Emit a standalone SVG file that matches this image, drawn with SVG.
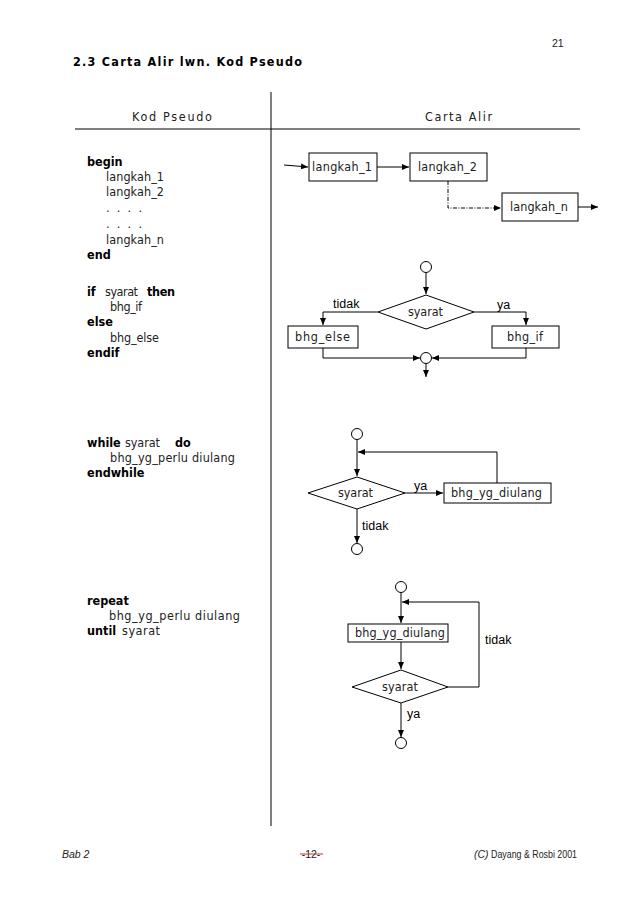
<svg xmlns="http://www.w3.org/2000/svg" width="638" height="903" viewBox="0 0 638 903">
<defs>
<marker id="ah" markerWidth="7" markerHeight="6" refX="7" refY="3" orient="auto" markerUnits="userSpaceOnUse">
<path d="M0,0 L7,3 L0,6 Z" fill="#000"/>
</marker>
<style>
.t{font-family:"DejaVu Sans Condensed","DejaVu Sans",sans-serif;font-size:12.5px;fill:#222}
.b{font-family:"DejaVu Sans Condensed","DejaVu Sans",sans-serif;font-size:12.5px;font-weight:bold;fill:#000}
.lb{font-family:"Liberation Sans",Arial,sans-serif;font-size:12.5px;fill:#000}
.box{fill:#fff;stroke:#000;stroke-width:1}
.ln{fill:none;stroke:#000;stroke-width:1}
.ar{fill:none;stroke:#000;stroke-width:1;marker-end:url(#ah)}
.ft{font-family:"Liberation Sans",Arial,sans-serif;font-size:10.5px;fill:#222}
</style>
</defs>
<rect width="638" height="903" fill="#fff"/>

<text x="552" y="47" class="ft" font-size="8">21</text>
<text x="73" y="66" class="b" font-size="15" textLength="229" lengthAdjust="spacing">2.3 Carta Alir lwn. Kod Pseudo</text>

<g id="table">
<line x1="271" y1="92" x2="271" y2="826" class="ln"/>
<line x1="75" y1="129" x2="580" y2="129" class="ln"/>
<text x="132" y="121" class="t" font-size="13.5" textLength="80" lengthAdjust="spacing">Kod Pseudo</text>
<text x="425" y="121" class="t" font-size="13.5" textLength="67" lengthAdjust="spacing">Carta Alir</text>
</g>

<g id="pseudo-seq">
<text x="87" y="166" class="b">begin</text>
<text x="106" y="181" class="t" textLength="58" lengthAdjust="spacing">langkah_1</text>
<text x="106" y="196" class="t" textLength="58" lengthAdjust="spacing">langkah_2</text>
<text x="106" y="212" class="t" textLength="36" lengthAdjust="spacing">. . . .</text>
<text x="106" y="228" class="t" textLength="36" lengthAdjust="spacing">. . . .</text>
<text x="106" y="244" class="t" textLength="58" lengthAdjust="spacing">langkah_n</text>
<text x="87" y="259" class="b">end</text>
</g>

<g id="pseudo-if">
<text x="87" y="296" class="b">if</text>
<text x="105" y="296" class="t" textLength="33" lengthAdjust="spacing">syarat</text>
<text x="147" y="296" class="b" textLength="28" lengthAdjust="spacing">then</text>
<text x="110" y="311" class="t" textLength="32" lengthAdjust="spacing">bhg_if</text>
<text x="87" y="326" class="b">else</text>
<text x="110" y="342" class="t" textLength="49" lengthAdjust="spacing">bhg_else</text>
<text x="87" y="357" class="b">endif</text>
</g>

<g id="pseudo-while">
<text x="87" y="447" class="b">while</text>
<text x="125" y="447" class="t" textLength="35" lengthAdjust="spacing">syarat</text>
<text x="175" y="447" class="b">do</text>
<text x="110" y="462" class="t" textLength="125" lengthAdjust="spacing">bhg_yg_perlu diulang</text>
<text x="87" y="477" class="b">endwhile</text>
</g>

<g id="pseudo-repeat">
<text x="87" y="605" class="b">repeat</text>
<text x="109" y="620" class="t" textLength="131" lengthAdjust="spacing">bhg_yg_perlu diulang</text>
<text x="87" y="635" class="b">until</text>
<text x="122" y="635" class="t" textLength="38" lengthAdjust="spacing">syarat</text>
</g>

<g id="connectors">
<line x1="284" y1="165" x2="308" y2="167" class="ar"/>
<line x1="377" y1="167" x2="409" y2="167" class="ar"/>
<path d="M448,181 V208 H501" class="ar" stroke-dasharray="4,1.5,1,1.5"/>
<line x1="578" y1="207" x2="598" y2="207" class="ar"/>
<line x1="426" y1="272.5" x2="426" y2="294" class="ar"/>
<path d="M378,312 H323 V325" class="ar"/>
<path d="M474,312 H526 V325" class="ar"/>
<path d="M323,348 V358 H420" class="ar"/>
<path d="M526,348 V358 H432" class="ar"/>
<line x1="426" y1="363.5" x2="426" y2="377" class="ar"/>
<line x1="357" y1="439.5" x2="357" y2="476" class="ar"/>
<path d="M497,483 V452 H358" class="ar"/>
<line x1="405" y1="493" x2="443" y2="493" class="ar"/>
<line x1="357" y1="509" x2="357" y2="543" class="ar"/>
<line x1="401" y1="592.5" x2="401" y2="623" class="ar"/>
<path d="M448,687 H479 V602 H402" class="ar"/>
<line x1="401" y1="642" x2="401" y2="669" class="ar"/>
<line x1="401" y1="703" x2="401" y2="737" class="ar"/>
</g>

<g id="langkah_1"><rect x="309" y="153" width="68" height="28" class="box"/><text x="312" y="171" class="t" textLength="60" lengthAdjust="spacing">langkah_1</text></g>
<g id="langkah_2"><rect x="410" y="153" width="77" height="28" class="box"/><text x="418" y="171" class="t" textLength="59" lengthAdjust="spacing">langkah_2</text></g>
<g id="langkah_n"><rect x="502" y="193" width="76" height="28" class="box"/><text x="510" y="211" class="t" textLength="58" lengthAdjust="spacing">langkah_n</text></g>

<g id="if-start"><circle cx="426" cy="267" r="5.5" class="box"/></g>
<g id="if-syarat"><path d="M378,312 L426,295 L474,312 L426,329 Z" class="box"/><text x="408" y="316" class="t" textLength="35" lengthAdjust="spacing">syarat</text></g>
<g id="if-tidak"><text x="333" y="308" class="lb">tidak</text></g>
<g id="if-ya"><text x="497" y="309" class="lb">ya</text></g>
<g id="bhg_else"><rect x="288" y="326" width="70" height="22" class="box"/><text x="295" y="341" class="t" textLength="55" lengthAdjust="spacing">bhg_else</text></g>
<g id="bhg_if"><rect x="492" y="326" width="67" height="22" class="box"/><text x="507" y="341" class="t" textLength="36" lengthAdjust="spacing">bhg_if</text></g>
<g id="if-join"><circle cx="426" cy="358" r="5.5" class="box"/></g>

<g id="while-start"><circle cx="357" cy="434" r="5.5" class="box"/></g>
<g id="while-syarat"><path d="M308,493 L357,477 L405,493 L357,509 Z" class="box"/><text x="338" y="497" class="t" textLength="35" lengthAdjust="spacing">syarat</text></g>
<g id="while-ya"><text x="414" y="490" class="lb">ya</text></g>
<g id="while-body"><rect x="444" y="483" width="107" height="20" class="box"/><text x="451" y="497" class="t" textLength="91" lengthAdjust="spacing">bhg_yg_diulang</text></g>
<g id="while-tidak"><text x="362" y="530" class="lb">tidak</text></g>
<g id="while-end"><circle cx="357" cy="549" r="5.5" class="box"/></g>

<g id="repeat-start"><circle cx="401" cy="587" r="5.5" class="box"/></g>
<g id="repeat-body"><rect x="348" y="624" width="100" height="18" class="box"/><text x="355" y="637" class="t" textLength="90" lengthAdjust="spacing">bhg_yg_diulang</text></g>
<g id="repeat-syarat"><path d="M352,687 L401,670 L448,687 L401,703 Z" class="box"/><text x="382" y="691" class="t" textLength="36" lengthAdjust="spacing">syarat</text></g>
<g id="repeat-tidak"><text x="485" y="644" class="lb">tidak</text></g>
<g id="repeat-ya"><text x="407" y="718" class="lb">ya</text></g>
<g id="repeat-end"><circle cx="401" cy="743" r="5.5" class="box"/></g>

<g id="footer">
<text x="62" y="858" class="ft" font-style="italic">Bab 2</text>
<text x="311" y="858" class="ft" text-anchor="middle" font-size="12">-12-</text>
<line x1="300" y1="854" x2="323" y2="854" stroke="#c0392b" stroke-width="1"/>
<text x="474" y="858" class="ft" font-style="italic">(C)</text>
<text x="491" y="858" class="ft" textLength="86" lengthAdjust="spacingAndGlyphs">Dayang &amp; Rosbi 2001</text>
</g>
</svg>
